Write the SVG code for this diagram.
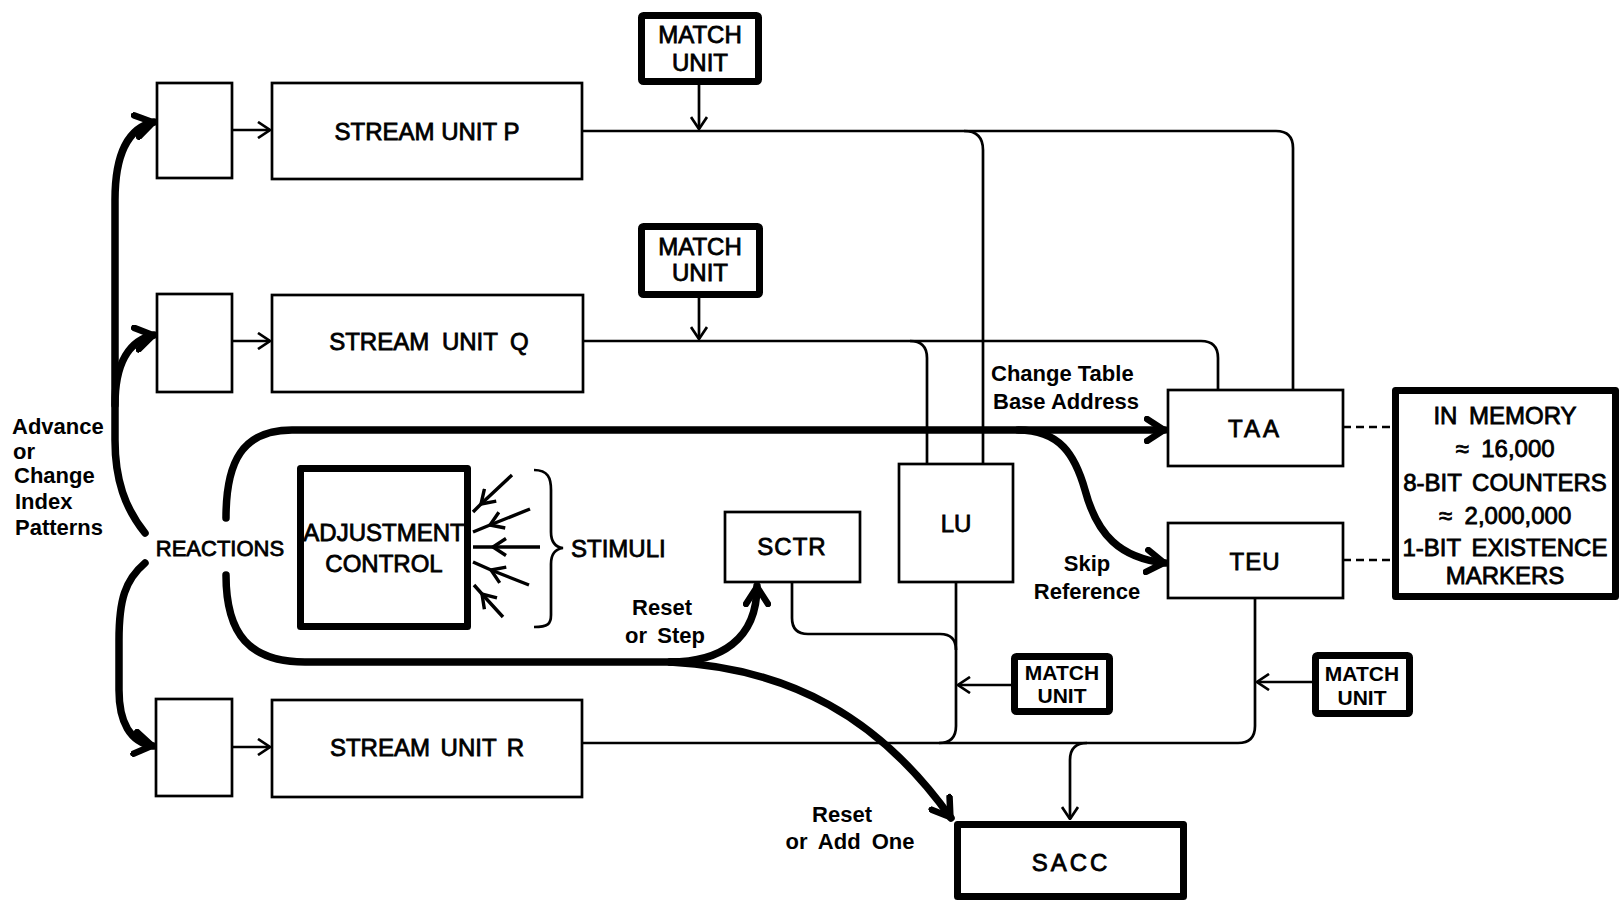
<svg xmlns="http://www.w3.org/2000/svg" width="1621" height="902" viewBox="0 0 1621 902">
<style>
.b{fill:#fff;stroke:#000;stroke-width:2.7}
.bt{fill:#fff;stroke:#000;stroke-width:7;stroke-linejoin:round}
.t{font-family:"Liberation Sans",Arial,sans-serif;font-size:24px;fill:#000;stroke:#000;stroke-width:0.8;text-anchor:middle}
.m{font-family:"Liberation Sans",Arial,sans-serif;font-size:22px;font-weight:bold;fill:#000}
.mu{font-family:"Liberation Sans",Arial,sans-serif;font-size:21px;font-weight:bold;fill:#000;text-anchor:middle}
.c{fill:none;stroke:#000;stroke-width:2.7}
.s{fill:none;stroke:#000;stroke-width:3.4}
.k{fill:none;stroke:#000;stroke-width:7.5;stroke-linecap:round}
.d{fill:none;stroke:#000;stroke-width:2.7;stroke-dasharray:8 5}
</style>
<defs>
<marker id="ah" markerUnits="userSpaceOnUse" viewBox="0 0 14 18" refX="13" refY="9" markerWidth="14" markerHeight="18" orient="auto"><path d="M1,1 L13,9 L1,17" fill="none" stroke="#000" stroke-width="2.7"/></marker>
<marker id="ahS" markerUnits="userSpaceOnUse" viewBox="0 0 16 20" refX="14" refY="10" markerWidth="16" markerHeight="20" orient="auto"><path d="M1,1.5 L14,10 L1,18.5" fill="none" stroke="#000" stroke-width="3.4"/></marker>
<marker id="ahT" markerUnits="userSpaceOnUse" viewBox="0 0 24 28" refX="21" refY="14" markerWidth="24" markerHeight="28" orient="auto"><path d="M3,3 L20,14 L3,25" fill="none" stroke="#000" stroke-width="6.5" stroke-linecap="round"/></marker>
</defs>
<rect width="1621" height="902" fill="#fff"/>

<g id="connectors">
<!-- thin -->
<path class="c" d="M232,130 H270" marker-end="url(#ah)"/>
<path class="c" d="M232,341 H270" marker-end="url(#ah)"/>
<path class="c" d="M232,747 H270" marker-end="url(#ah)"/>
<path class="c" d="M699,85 V129" marker-end="url(#ah)"/>
<path class="c" d="M699,298 V339" marker-end="url(#ah)"/>
<path class="c" d="M582,131 H1276 Q1293,131 1293,148 V390"/>
<path class="c" d="M964,131 Q983,131 983,150 V464"/>
<path class="c" d="M584,341 H1201 Q1218,341 1218,358 V390"/>
<path class="c" d="M910,341 Q927,341 927,358 V464"/>
<path class="c" d="M582,743 H1238 Q1255,743 1255,726 V598"/>
<path class="c" d="M956,582 V726 Q956,743 939,743"/>
<path class="c" d="M792,582 V618 Q792,634 808,634 H940 Q956,634 956,650"/>
<path class="c" d="M1011,685 H958" marker-end="url(#ah)"/>
<path class="c" d="M1312,682 H1257" marker-end="url(#ah)"/>
<path class="c" d="M1087,743 Q1070,743 1070,760 V819" marker-end="url(#ah)"/>
<path class="d" d="M1343,427 H1392"/>
<path class="d" d="M1343,560 H1392"/>
<!-- stimuli arrows -->
<path class="s" d="M512,475 L481,504 L473,512" marker-mid="url(#ahS)"/>
<path class="s" d="M530,509 L490,525 L473,532" marker-mid="url(#ahS)"/>
<path class="s" d="M540,547 L493,547 L473,547" marker-mid="url(#ahS)"/>
<path class="s" d="M529,585 L491,570 L473,562" marker-mid="url(#ahS)"/>
<path class="s" d="M503,617 L482,594 L474,585" marker-mid="url(#ahS)"/>
<path class="c" d="M534,470 C548,470 551,478 551,490 V532 C551,542 555,547 563,548 C555,549 551,554 551,564 V615 C551,624 548,627 534,627"/>
<!-- thick -->
<path class="k" d="M145,533 C125,508 115,480 115,440 V200 C115,155 128,128 154,122" marker-end="url(#ahT)"/>
<path class="k" d="M115,405 C115,362 130,340 154,335" marker-end="url(#ahT)"/>
<path class="k" d="M145,563 C125,580 119,600 119,640 V690 C119,722 130,742 153,746" marker-end="url(#ahT)"/>
<path class="k" d="M226,518 C226,462 242,430 292,430 H1165" marker-end="url(#ahT)"/>
<path class="k" d="M1018,430 C1060,430 1075,455 1085,490 C1097,535 1120,558 1165,563" marker-end="url(#ahT)"/>
<path class="k" d="M226,575 C226,635 250,662 305,662 H680"/>
<path class="k" d="M670,662 C720,662 757,640 757,586" marker-end="url(#ahT)"/>
<path class="k" d="M670,662 C790,668 880,718 951,818" marker-end="url(#ahT)"/>
</g>

<g id="box-p"><rect class="b" x="157" y="83" width="75" height="95"/></g>
<g id="stream-p"><rect class="b" x="272" y="83" width="310" height="96"/><text class="t" x="427" y="140">STREAM UNIT P</text></g>
<g id="box-q"><rect class="b" x="157" y="294" width="75" height="98"/></g>
<g id="stream-q"><rect class="b" x="272" y="295" width="311" height="97"/><text class="t" x="429" y="350" word-spacing="6">STREAM UNIT Q</text></g>
<g id="box-r"><rect class="b" x="156" y="699" width="76" height="97"/></g>
<g id="stream-r"><rect class="b" x="272" y="700" width="310" height="97"/><text class="t" x="427" y="756" word-spacing="4">STREAM UNIT R</text></g>

<g id="match1"><rect class="bt" x="641.5" y="15.5" width="117" height="66" rx="2"/><text class="t" x="700" y="43">MATCH</text><text class="t" x="700" y="71">UNIT</text></g>
<g id="match2"><rect class="bt" x="641.5" y="226.5" width="118" height="68" rx="2"/><text class="t" x="700" y="255">MATCH</text><text class="t" x="700" y="281">UNIT</text></g>
<g id="match3"><rect class="bt" x="1014.5" y="656.5" width="95" height="55" rx="2"/><text class="mu" x="1062" y="680">MATCH</text><text class="mu" x="1062" y="703">UNIT</text></g>
<g id="match4"><rect class="bt" x="1315.5" y="655.5" width="94" height="58" rx="2"/><text class="mu" x="1362" y="681">MATCH</text><text class="mu" x="1362" y="705">UNIT</text></g>

<g id="taa"><rect class="b" x="1168" y="390" width="175" height="76"/><text class="t" x="1255" y="437" letter-spacing="3">TAA</text></g>
<g id="teu"><rect class="b" x="1168" y="523" width="175" height="75"/><text class="t" x="1255" y="570" letter-spacing="1">TEU</text></g>
<g id="lu"><rect class="b" x="899" y="464" width="114" height="118"/><text class="t" x="956" y="532">LU</text></g>
<g id="sctr"><rect class="b" x="725" y="512" width="135" height="70"/><text class="t" x="792" y="555" letter-spacing="1">SCTR</text></g>
<g id="sacc"><rect class="bt" x="957.5" y="824.5" width="226" height="72"/><text class="t" x="1071" y="871" letter-spacing="3">SACC</text></g>

<g id="memory"><rect class="bt" x="1395.5" y="390.5" width="220" height="206"/>
<text class="t" x="1505" y="424" word-spacing="5">IN MEMORY</text>
<text class="t" x="1505" y="457" word-spacing="6">≈ 16,000</text>
<text class="t" x="1505" y="491" word-spacing="4">8-BIT COUNTERS</text>
<text class="t" x="1505" y="524" word-spacing="6">≈ 2,000,000</text>
<text class="t" x="1505" y="556" word-spacing="4">1-BIT EXISTENCE</text>
<text class="t" x="1505" y="584">MARKERS</text>
</g>

<g id="adjustment"><rect class="bt" x="300.5" y="468.5" width="167" height="158"/><text class="t" x="384" y="541" font-size="23">ADJUSTMENT</text><text class="t" x="384" y="572" font-size="23">CONTROL</text></g>

<g id="labels">
<text class="m" x="220" y="556" font-size="23" style="font-weight:normal;stroke:#000;stroke-width:0.8;text-anchor:middle">REACTIONS</text>
<text class="t" x="571" y="557" style="text-anchor:start">STIMULI</text>
<text class="m" x="12" y="434">Advance</text>
<text class="m" x="13" y="459">or</text>
<text class="m" x="14" y="483">Change</text>
<text class="m" x="15" y="509">Index</text>
<text class="m" x="15" y="535">Patterns</text>
<text class="m" x="991" y="381" font-size="23">Change Table</text>
<text class="m" x="993" y="409" font-size="23">Base Address</text>
<text class="m" x="1087" y="571" text-anchor="middle">Skip</text>
<text class="m" x="1087" y="599" text-anchor="middle">Reference</text>
<text class="m" x="662" y="615" text-anchor="middle">Reset</text>
<text class="m" x="665" y="643" text-anchor="middle" word-spacing="4">or Step</text>
<text class="m" x="842" y="822" text-anchor="middle">Reset</text>
<text class="m" x="850" y="849" text-anchor="middle" word-spacing="5">or Add One</text>
</g>
</svg>
